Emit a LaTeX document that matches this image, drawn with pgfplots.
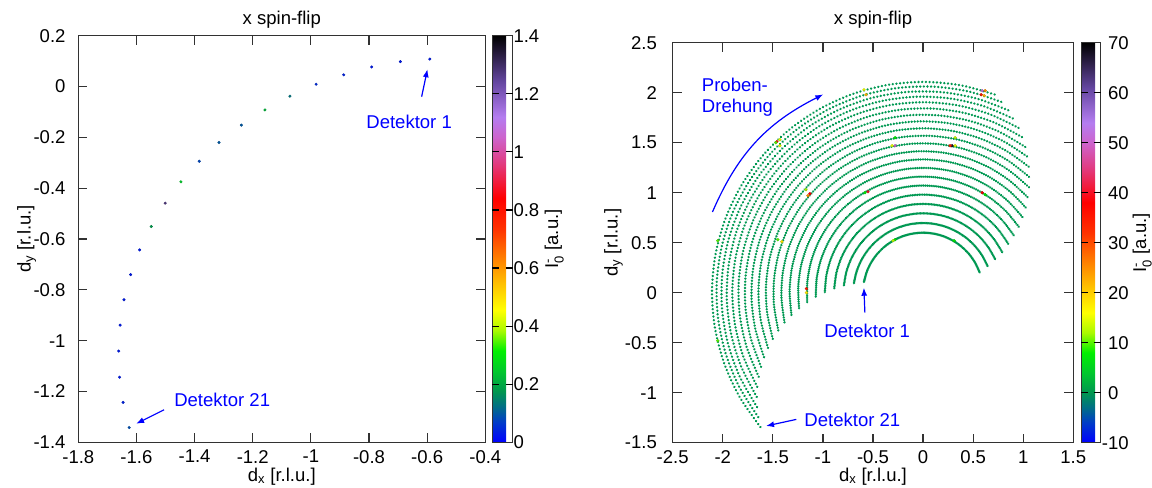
\documentclass[border=0pt]{standalone}
\usepackage{fontspec}
\setmainfont{Liberation Sans}
\usepackage{amsmath}
\usepackage{pgfplots}
\pgfplotsset{compat=1.18}
\usetikzlibrary{arrows.meta}
\pgfkeys{/pgf/number format/.cd, assume math mode=true}
\newcommand\fs{\fontsize{18.6}{22}\selectfont}
\definecolor{arccol}{RGB}{0,152,82}
\definecolor{annblue}{RGB}{0,0,255}
\definecolor{framecol}{RGB}{50,50,50}
\tikzset{ann/.style={annblue, line width=1.2bp, -{Latex[length=8bp,width=6bp]}},
  tk/.style={draw=framecol, line width=1.2bp}, tkb/.style={draw=black, line width=1.2bp}}
\newcommand\tkv[3]{\draw[tk] (#1bp,#2bp) -- (#1bp,#3bp);}
\newcommand\tkh[3]{\draw[tk] (#2bp,#1bp) -- (#3bp,#1bp);}
\newcommand\tkc[5]{\draw[tkb] (#2bp,#1bp) -- (#3bp,#1bp); \draw[tkb] (#4bp,#1bp) -- (#5bp,#1bp);}
\pgfplotsset{
  colormap={gp}{rgb255(0)=(0,0,255) rgb255(4)=(0,60,200) rgb255(7)=(0,110,135)
    rgb255(10)=(0,150,80) rgb255(14)=(0,200,45) rgb255(18)=(0,240,0)
    rgb255(22)=(170,250,0) rgb255(26)=(255,255,0) rgb255(31)=(255,195,0)
    rgb255(36)=(255,130,0) rgb255(42)=(255,50,0) rgb255(48)=(255,0,0)
    rgb255(55)=(225,60,130) rgb255(60)=(205,100,205) rgb255(64)=(180,125,240)
    rgb255(71)=(100,70,160) rgb255(80)=(0,0,0)},
  common/.style={
    scale only axis,
    axis on top,
    axis line style={framecol, line width=0.9bp},
    tick style={draw=framecol, line width=1.2bp},
    tick align=inside,
    tick pos=both,
    major tick length=9bp,
    tick label style={font=\fs},
    xticklabel style={inner sep=0pt, anchor=north, yshift=-7.7bp},
    label style={font=\fs},
    colormap name=gp,
    colorbar shift/.style={xshift=0bp},
  },
  cbar/.style={
    at={(parent axis.north east)}, anchor=north west,
    axis on top,
    axis line style={framecol, line width=0.9bp},
    tick style={draw=black, line width=1.2bp},
    tick align=inside, major tick length=7bp,
    ytick pos=both, yticklabel pos=right,
    yticklabel style={font=\fs, inner sep=0pt, anchor=west},
    ylabel style={font=\fs},
  },
  arcst/.style={arccol, line width=2.6bp, line cap=round,
    dash pattern=on 0.01bp off #1bp, data cs=polar, smooth, tension=0.5},
}
\begin{document}
\begin{tikzpicture}
\useasboundingbox (0,0) rectangle (1152bp,488bp);
% ---------------- left panel ----------------
\begin{axis}[common, at={(78.3bp,45.7bp)}, anchor=south west,
  width=407bp, height=406.6bp,
  xmin=-1.8, xmax=-0.4, ymin=-1.4, ymax=0.2,
  xtick={-1.8,-1.6,-1.4,-1.2,-1,-0.8,-0.6,-0.4},
  ytick={-1.4,-1.2,-1,-0.8,-0.6,-0.4,-0.2,0,0.2},
  yticklabel style={inner sep=0pt, anchor=east, xshift=-12.6bp},
  xlabel={d$_{\text{x}}$ [r.l.u.]},
  ylabel={d$_{\text{y}}$ [r.l.u.]},
  xlabel style={at={(axis description cs:0.5,-0.0952)}, anchor=base},
  ylabel style={at={(axis description cs:-0.117,0.5)}, anchor=base},
  point meta min=0, point meta max=1.4,
  colorbar,
  colorbar style={cbar, width=20.7bp, xshift=6.7bp,
    ytick={0,0.2,0.4,0.6,0.8,1,1.2,1.4},
    yticklabel style={xshift=0.6bp},
    ylabel={I$_{\text{0}}^{\text{-}}$ [a.u.]},
    ylabel style={at={(axis description cs:3.19,0.5)}, anchor=base}},
]
\addplot[scatter, only marks, mark=*, mark size=1.3bp, point meta=explicit]
  table[meta=c] {
x y c
-0.591 0.108 0.03
-0.692 0.098 0.03
-0.791 0.077 0.03
-0.887 0.046 0.04
-0.982 0.009 0.05
-1.072 -0.038 0.13
-1.158 -0.092 0.22
-1.239 -0.152 0.10
-1.316 -0.220 0.10
-1.384 -0.294 0.08
-1.447 -0.375 0.25
-1.501 -0.459 1.28
-1.549 -0.551 0.18
-1.589 -0.643 0.03
-1.620 -0.740 0.03
-1.643 -0.839 0.03
-1.656 -0.939 0.03
-1.661 -1.041 0.03
-1.658 -1.144 0.03
-1.646 -1.243 0.04
-1.625 -1.342 0.09
};
\node[annblue, font=\fs] at (axis cs:-0.662,-0.139) {Detektor 1};
\draw[ann] (axis cs:-0.619,-0.040) -- (axis cs:-0.599,0.068);
\node[annblue, font=\fs] at (axis cs:-1.305,-1.235) {Detektor 21};
\draw[ann] (axis cs:-1.505,-1.272) -- (axis cs:-1.601,-1.327);
\end{axis}
% ---------------- right panel ----------------
\begin{axis}[common, at={(672.7bp,45.3bp)}, anchor=south west,
  width=400.6bp, height=400bp,
  xmin=-2.5, xmax=1.5, ymin=-1.5, ymax=2.5,
  xtick={-2.5,-2,-1.5,-1,-0.5,0,0.5,1,1.5},
  ytick={-1.5,-1,-0.5,0,0.5,1,1.5,2,2.5},
  yticklabel style={inner sep=0pt, anchor=east, xshift=-15.7bp},
  xlabel={d$_{\text{x}}$ [r.l.u.]},
  ylabel={d$_{\text{y}}$ [r.l.u.]},
  xlabel style={at={(axis description cs:0.5,-0.0958)}, anchor=base},
  ylabel style={at={(axis description cs:-0.1375,0.5)}, anchor=base},
  point meta min=-10, point meta max=70,
  colorbar,
  colorbar style={cbar, width=19.7bp, xshift=7.7bp,
    ytick={-10,0,10,20,30,40,50,60,70},
    yticklabels={-10,\phantom{-}0,\phantom{-}10,\phantom{-}20,\phantom{-}30,\phantom{-}40,\phantom{-}50,\phantom{-}60,\phantom{-}70},
    yticklabel style={xshift=1bp},
    ylabel={I$_{\text{0}}^{\text{-}}$ [a.u.]},
    ylabel style={at={(axis description cs:3.30,0.5)}, anchor=base}},
]
\addplot[arcst=1.05] coordinates {(169.6,0.600) (159.6,0.600) (149.6,0.600) (139.6,0.600) (129.6,0.600) (119.6,0.600) (109.6,0.600) (99.6,0.600) (89.6,0.600) (79.6,0.600) (69.6,0.600) (59.6,0.600) (49.6,0.600) (39.6,0.600) (29.6,0.600) (19.6,0.600)};
\addplot[arcst=1.22] coordinates {(172.1,0.697) (162.1,0.697) (152.1,0.697) (142.1,0.697) (132.1,0.697) (122.1,0.697) (112.1,0.697) (102.1,0.697) (92.1,0.697) (82.1,0.697) (72.1,0.697) (62.1,0.697) (52.1,0.697) (42.1,0.697) (32.1,0.697) (22.1,0.697)};
\addplot[arcst=1.39] coordinates {(174.6,0.794) (164.6,0.794) (154.6,0.794) (144.6,0.794) (134.6,0.794) (124.6,0.794) (114.6,0.794) (104.6,0.794) (94.6,0.794) (84.6,0.794) (74.6,0.794) (64.6,0.794) (54.6,0.794) (44.6,0.794) (34.6,0.794) (24.6,0.794)};
\addplot[arcst=1.55] coordinates {(177.1,0.888) (167.1,0.888) (157.1,0.888) (147.1,0.888) (137.1,0.888) (127.1,0.888) (117.1,0.888) (107.1,0.888) (97.1,0.888) (87.1,0.888) (77.1,0.888) (67.1,0.888) (57.1,0.888) (47.1,0.888) (37.1,0.888) (27.1,0.888)};
\addplot[arcst=1.71] coordinates {(179.6,0.981) (169.6,0.981) (159.6,0.981) (149.6,0.981) (139.6,0.981) (129.6,0.981) (119.6,0.981) (109.6,0.981) (99.6,0.981) (89.6,0.981) (79.6,0.981) (69.6,0.981) (59.6,0.981) (49.6,0.981) (39.6,0.981) (29.6,0.981)};
\addplot[arcst=1.87] coordinates {(182.1,1.072) (172.1,1.072) (162.1,1.072) (152.1,1.072) (142.1,1.072) (132.1,1.072) (122.1,1.072) (112.1,1.072) (102.1,1.072) (92.1,1.072) (82.1,1.072) (72.1,1.072) (62.1,1.072) (52.1,1.072) (42.1,1.072) (32.1,1.072)};
\addplot[arcst=2.03] coordinates {(184.6,1.161) (174.6,1.161) (164.6,1.161) (154.6,1.161) (144.6,1.161) (134.6,1.161) (124.6,1.161) (114.6,1.161) (104.6,1.161) (94.6,1.161) (84.6,1.161) (74.6,1.161) (64.6,1.161) (54.6,1.161) (44.6,1.161) (34.6,1.161)};
\addplot[arcst=2.18] coordinates {(187.1,1.248) (177.1,1.248) (167.1,1.248) (157.1,1.248) (147.1,1.248) (137.1,1.248) (127.1,1.248) (117.1,1.248) (107.1,1.248) (97.1,1.248) (87.1,1.248) (77.1,1.248) (67.1,1.248) (57.1,1.248) (47.1,1.248) (37.1,1.248)};
\addplot[arcst=2.33] coordinates {(189.6,1.333) (179.6,1.333) (169.6,1.333) (159.6,1.333) (149.6,1.333) (139.6,1.333) (129.6,1.333) (119.6,1.333) (109.6,1.333) (99.6,1.333) (89.6,1.333) (79.6,1.333) (69.6,1.333) (59.6,1.333) (49.6,1.333) (39.6,1.333)};
\addplot[arcst=2.47] coordinates {(192.1,1.415) (182.1,1.415) (172.1,1.415) (162.1,1.415) (152.1,1.415) (142.1,1.415) (132.1,1.415) (122.1,1.415) (112.1,1.415) (102.1,1.415) (92.1,1.415) (82.1,1.415) (72.1,1.415) (62.1,1.415) (52.1,1.415) (42.1,1.415)};
\addplot[arcst=2.61] coordinates {(194.6,1.494) (184.6,1.494) (174.6,1.494) (164.6,1.494) (154.6,1.494) (144.6,1.494) (134.6,1.494) (124.6,1.494) (114.6,1.494) (104.6,1.494) (94.6,1.494) (84.6,1.494) (74.6,1.494) (64.6,1.494) (54.6,1.494) (44.6,1.494)};
\addplot[arcst=2.74] coordinates {(197.1,1.570) (187.1,1.570) (177.1,1.570) (167.1,1.570) (157.1,1.570) (147.1,1.570) (137.1,1.570) (127.1,1.570) (117.1,1.570) (107.1,1.570) (97.1,1.570) (87.1,1.570) (77.1,1.570) (67.1,1.570) (57.1,1.570) (47.1,1.570)};
\addplot[arcst=2.87] coordinates {(199.6,1.644) (189.6,1.644) (179.6,1.644) (169.6,1.644) (159.6,1.644) (149.6,1.644) (139.6,1.644) (129.6,1.644) (119.6,1.644) (109.6,1.644) (99.6,1.644) (89.6,1.644) (79.6,1.644) (69.6,1.644) (59.6,1.644) (49.6,1.644)};
\addplot[arcst=2.99] coordinates {(202.1,1.714) (192.1,1.714) (182.1,1.714) (172.1,1.714) (162.1,1.714) (152.1,1.714) (142.1,1.714) (132.1,1.714) (122.1,1.714) (112.1,1.714) (102.1,1.714) (92.1,1.714) (82.1,1.714) (72.1,1.714) (62.1,1.714) (52.1,1.714)};
\addplot[arcst=3.11] coordinates {(204.6,1.780) (194.6,1.780) (184.6,1.780) (174.6,1.780) (164.6,1.780) (154.6,1.780) (144.6,1.780) (134.6,1.780) (124.6,1.780) (114.6,1.780) (104.6,1.780) (94.6,1.780) (84.6,1.780) (74.6,1.780) (64.6,1.780) (54.6,1.780)};
\addplot[arcst=3.22] coordinates {(207.1,1.844) (197.1,1.844) (187.1,1.844) (177.1,1.844) (167.1,1.844) (157.1,1.844) (147.1,1.844) (137.1,1.844) (127.1,1.844) (117.1,1.844) (107.1,1.844) (97.1,1.844) (87.1,1.844) (77.1,1.844) (67.1,1.844) (57.1,1.844)};
\addplot[arcst=3.33] coordinates {(209.6,1.905) (199.6,1.905) (189.6,1.905) (179.6,1.905) (169.6,1.905) (159.6,1.905) (149.6,1.905) (139.6,1.905) (129.6,1.905) (119.6,1.905) (109.6,1.905) (99.6,1.905) (89.6,1.905) (79.6,1.905) (69.6,1.905) (59.6,1.905)};
\addplot[arcst=3.42] coordinates {(212.1,1.961) (202.1,1.961) (192.1,1.961) (182.1,1.961) (172.1,1.961) (162.1,1.961) (152.1,1.961) (142.1,1.961) (132.1,1.961) (122.1,1.961) (112.1,1.961) (102.1,1.961) (92.1,1.961) (82.1,1.961) (72.1,1.961) (62.1,1.961)};
\addplot[arcst=3.52] coordinates {(214.6,2.014) (204.6,2.014) (194.6,2.014) (184.6,2.014) (174.6,2.014) (164.6,2.014) (154.6,2.014) (144.6,2.014) (134.6,2.014) (124.6,2.014) (114.6,2.014) (104.6,2.014) (94.6,2.014) (84.6,2.014) (74.6,2.014) (64.6,2.014)};
\addplot[arcst=3.60] coordinates {(217.1,2.063) (207.1,2.063) (197.1,2.063) (187.1,2.063) (177.1,2.063) (167.1,2.063) (157.1,2.063) (147.1,2.063) (137.1,2.063) (127.1,2.063) (117.1,2.063) (107.1,2.063) (97.1,2.063) (87.1,2.063) (77.1,2.063) (67.1,2.063)};
\addplot[arcst=3.68] coordinates {(219.6,2.108) (209.6,2.108) (199.6,2.108) (189.6,2.108) (179.6,2.108) (169.6,2.108) (159.6,2.108) (149.6,2.108) (139.6,2.108) (129.6,2.108) (119.6,2.108) (109.6,2.108) (99.6,2.108) (89.6,2.108) (79.6,2.108) (69.6,2.108)};
\addplot[scatter, only marks, mark=*, mark size=1.4bp, point meta=explicit]
  table[meta=c] {
x y c
-0.59 2.03 15
-0.57 1.98 22
0.59 2.02 52
0.62 2.02 25
0.58 1.98 35
0.61 1.97 22
-1.46 1.51 38
-1.43 1.53 15
-1.47 1.50 10
-1.43 1.47 15
-0.28 1.55 8
-0.28 1.47 50
-0.31 1.47 15
0.29 1.47 68
0.27 1.47 35
0.32 1.55 13
0.32 1.47 15
-1.17 1.03 12
-1.13 0.99 38
-1.15 0.97 25
-0.55 1.01 40
-0.58 1.00 8
0.59 1.00 38
0.62 0.98 8
-0.28 0.53 8
-0.30 0.52 13
0.31 0.52 8
-1.41 0.51 18
-1.45 0.53 10
-2.05 0.52 10
-1.165 0.04 35
-1.165 0.00 18
-2.05 -0.48 10
};
\node[annblue, font=\fs, anchor=base west] at (axis cs:-2.243,2.017) {Proben-};
\node[annblue, font=\fs, anchor=base west] at (axis cs:-2.243,1.800) {Drehung};
\draw[ann] (axis cs:-2.103,0.807) to[bend left=20] (axis cs:-0.996,1.983);
\node[annblue, font=\fs] at (axis cs:-0.558,-0.383) {Detektor 1};
\draw[ann] (axis cs:-0.581,-0.20) -- (axis cs:-0.591,0.05);
\node[annblue, font=\fs] at (axis cs:-0.706,-1.267) {Detektor 21};
\draw[ann] (axis cs:-1.266,-1.267) -- (axis cs:-1.568,-1.333);
\end{axis}
% ---- tick marks (inside, mirrored), left panel ----
\tkv{136.44}{45.7}{54.7}\tkv{194.59}{45.7}{54.7}\tkv{252.73}{45.7}{54.7}
\tkv{310.87}{45.7}{54.7}\tkv{369.01}{45.7}{54.7}\tkv{427.16}{45.7}{54.7}
\tkv{136.44}{452.3}{443.3}\tkv{194.59}{452.3}{443.3}\tkv{252.73}{452.3}{443.3}
\tkv{310.87}{452.3}{443.3}\tkv{369.01}{452.3}{443.3}\tkv{427.16}{452.3}{443.3}
\tkh{96.53}{78.3}{87.3}\tkh{147.35}{78.3}{87.3}\tkh{198.18}{78.3}{87.3}
\tkh{249.0}{78.3}{87.3}\tkh{299.83}{78.3}{87.3}\tkh{350.65}{78.3}{87.3}\tkh{401.48}{78.3}{87.3}
\tkh{96.53}{485.3}{476.3}\tkh{147.35}{485.3}{476.3}\tkh{198.18}{485.3}{476.3}
\tkh{249.0}{485.3}{476.3}\tkh{299.83}{485.3}{476.3}\tkh{350.65}{485.3}{476.3}\tkh{401.48}{485.3}{476.3}
% ---- right panel ----
\tkv{722.78}{45.3}{54.3}\tkv{772.85}{45.3}{54.3}\tkv{822.93}{45.3}{54.3}\tkv{873.0}{45.3}{54.3}
\tkv{923.08}{45.3}{54.3}\tkv{973.15}{45.3}{54.3}\tkv{1023.23}{45.3}{54.3}
\tkv{722.78}{445.3}{436.3}\tkv{772.85}{445.3}{436.3}\tkv{822.93}{445.3}{436.3}\tkv{873.0}{445.3}{436.3}
\tkv{923.08}{445.3}{436.3}\tkv{973.15}{445.3}{436.3}\tkv{1023.23}{445.3}{436.3}
\tkh{95.3}{672.7}{681.7}\tkh{145.3}{672.7}{681.7}\tkh{195.3}{672.7}{681.7}\tkh{245.3}{672.7}{681.7}
\tkh{295.3}{672.7}{681.7}\tkh{345.3}{672.7}{681.7}\tkh{395.3}{672.7}{681.7}
\tkh{95.3}{1073.3}{1064.3}\tkh{145.3}{1073.3}{1064.3}\tkh{195.3}{1073.3}{1064.3}\tkh{245.3}{1073.3}{1064.3}
\tkh{295.3}{1073.3}{1064.3}\tkh{345.3}{1073.3}{1064.3}\tkh{395.3}{1073.3}{1064.3}
% ---- colorbar tick dashes ----
\tkc{103.79}{492}{499}{505.7}{512.7}\tkc{161.87}{492}{499}{505.7}{512.7}
\tkc{219.96}{492}{499}{505.7}{512.7}\tkc{278.04}{492}{499}{505.7}{512.7}
\tkc{336.13}{492}{499}{505.7}{512.7}\tkc{394.22}{492}{499}{505.7}{512.7}
\tkc{95.3}{1081}{1088}{1093.7}{1100.7}\tkc{145.3}{1081}{1088}{1093.7}{1100.7}
\tkc{195.3}{1081}{1088}{1093.7}{1100.7}\tkc{245.3}{1081}{1088}{1093.7}{1100.7}
\tkc{295.3}{1081}{1088}{1093.7}{1100.7}\tkc{345.3}{1081}{1088}{1093.7}{1100.7}
\tkc{395.3}{1081}{1088}{1093.7}{1100.7}
% titles
\node[font=\fs, anchor=base] at (281.8bp,463bp) {x spin-flip};
\node[font=\fs, anchor=base] at (873bp,463bp) {x spin-flip};
\end{tikzpicture}
\end{document}
